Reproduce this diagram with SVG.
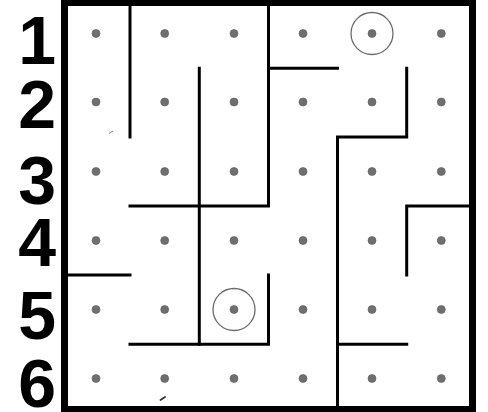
<svg xmlns="http://www.w3.org/2000/svg" width="488" height="412" viewBox="0 0 488 412">
  <style>
    .lbl { font-family: "Liberation Sans", Arial, sans-serif; font-weight: bold; font-size: 68px; fill: #000; text-anchor: end; }
    .dot { fill: #6f6f6f; stroke: #5a5a5a; stroke-width: 0.6; }
    .ring { fill: none; stroke: #6a6a6a; stroke-width: 1.3; }
    .wall { fill: none; stroke: #000; stroke-width: 3; stroke-linecap: square; stroke-linejoin: miter; }
  </style>
  <rect x="0" y="0" width="488" height="412" fill="#fff"/>
  <g id="labels">
    <text class="lbl" x="56" y="64">1</text>
    <text class="lbl" x="56" y="128">2</text>
    <text class="lbl" x="56" y="204">3</text>
    <text class="lbl" x="56" y="266">4</text>
    <text class="lbl" x="56" y="339">5</text>
    <text class="lbl" x="56" y="407">6</text>
  </g>
  <g id="dots">
    <g id="row1"><circle class="dot" cx="96" cy="33.5" r="4"/><circle class="dot" cx="164.7" cy="33.5" r="4"/><circle class="dot" cx="234" cy="33.5" r="4"/><circle class="dot" cx="303" cy="33.5" r="4"/><circle class="dot" cx="372" cy="33.5" r="4"/><circle class="dot" cx="441.3" cy="33.5" r="4"/></g>
    <g id="row2"><circle class="dot" cx="96" cy="102" r="4"/><circle class="dot" cx="164.7" cy="102" r="4"/><circle class="dot" cx="234" cy="102" r="4"/><circle class="dot" cx="303" cy="102" r="4"/><circle class="dot" cx="372" cy="102" r="4"/><circle class="dot" cx="441.3" cy="102" r="4"/></g>
    <g id="row3"><circle class="dot" cx="96" cy="171.5" r="4"/><circle class="dot" cx="164.7" cy="171.5" r="4"/><circle class="dot" cx="234" cy="171.5" r="4"/><circle class="dot" cx="303" cy="171.5" r="4"/><circle class="dot" cx="372" cy="171.5" r="4"/><circle class="dot" cx="441.3" cy="171.5" r="4"/></g>
    <g id="row4"><circle class="dot" cx="96" cy="240.5" r="4"/><circle class="dot" cx="164.7" cy="240.5" r="4"/><circle class="dot" cx="234" cy="240.5" r="4"/><circle class="dot" cx="303" cy="240.5" r="4"/><circle class="dot" cx="372" cy="240.5" r="4"/><circle class="dot" cx="441.3" cy="240.5" r="4"/></g>
    <g id="row5"><circle class="dot" cx="96" cy="309.5" r="4"/><circle class="dot" cx="164.7" cy="309.5" r="4"/><circle class="dot" cx="234" cy="309.5" r="4"/><circle class="dot" cx="303" cy="309.5" r="4"/><circle class="dot" cx="372" cy="309.5" r="4"/><circle class="dot" cx="441.3" cy="309.5" r="4"/></g>
    <g id="row6"><circle class="dot" cx="96" cy="378.5" r="4"/><circle class="dot" cx="164.7" cy="378.5" r="4"/><circle class="dot" cx="234" cy="378.5" r="4"/><circle class="dot" cx="303" cy="378.5" r="4"/><circle class="dot" cx="372" cy="378.5" r="4"/><circle class="dot" cx="441.3" cy="378.5" r="4"/></g>
  </g>
  <g id="rings">
    <circle class="ring" cx="372" cy="33.5" r="21"/>
    <circle class="ring" cx="234" cy="309.5" r="21"/>
  </g>
  <g id="walls">
    <path class="wall" d="M130 4 V137"/>
    <path class="wall" d="M199.3 68.3 V344.3"/>
    <path class="wall" d="M268.5 4 V206 H130"/>
    <path class="wall" d="M268.5 68.3 H337.5"/>
    <path class="wall" d="M406.7 68.3 V137 H337.5 V408"/>
    <path class="wall" d="M406.7 275 V206 H470"/>
    <path class="wall" d="M66 275 H130"/>
    <path class="wall" d="M130 344.3 H268.5 V275"/>
    <path class="wall" d="M337.5 344.3 H406.7"/>
  </g>
  <g id="marks">
    <path d="M109 133.5 L113 131" stroke="#888" stroke-width="1" fill="none"/>
    <path d="M160.5 400 L165 397" stroke="#333" stroke-width="1.8" fill="none" stroke-linecap="round"/>
  </g>
  <g id="border">
    <rect x="64.5" y="2.5" width="408" height="407" fill="none" stroke="#000" stroke-width="7"/>
  </g>
</svg>
